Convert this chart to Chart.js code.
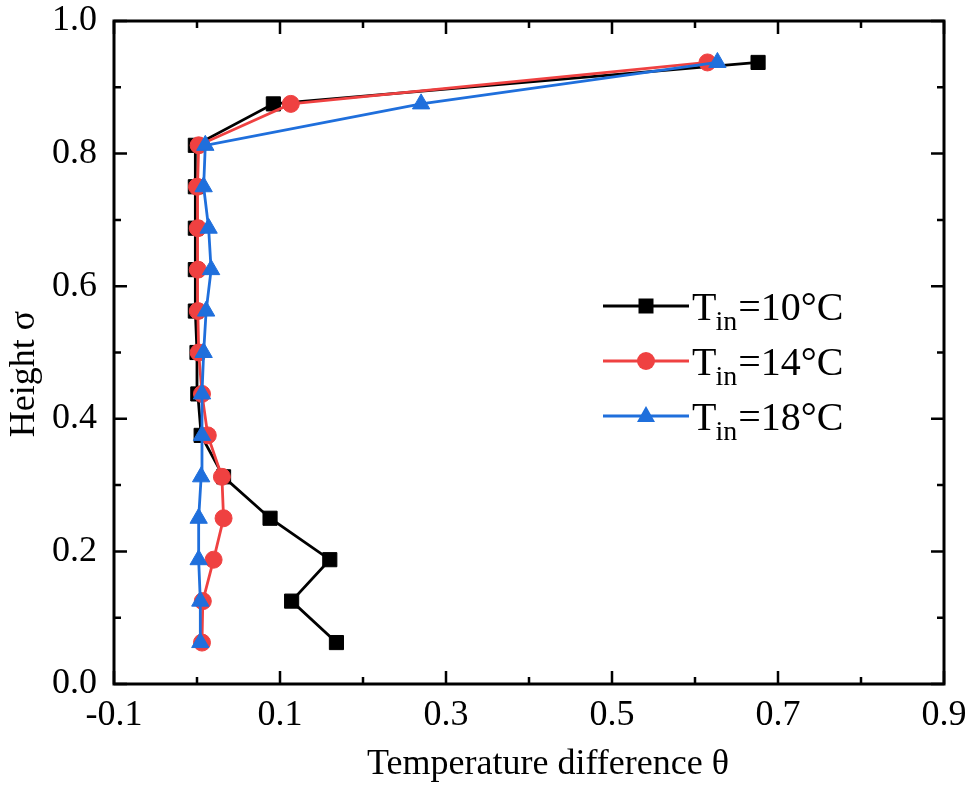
<!DOCTYPE html>
<html>
<head>
<meta charset="utf-8">
<script src="https://cdn.jsdelivr.net/npm/chart.js@4/dist/chart.umd.min.js"></script>
<style>
    html, body { margin: 0; padding: 0; background: #fff; }
    canvas { display: block; }
</style>
</head>
<body>
<canvas id="thetaChart" width="969" height="787"></canvas>
<script>
// height sigma of each measuring point
const sigma = [0.0625, 0.125, 0.1875, 0.25, 0.3125, 0.375, 0.4375, 0.5,
               0.5625, 0.625, 0.6875, 0.75, 0.8125, 0.875, 0.9375];

// temperature difference theta
const theta10 = [0.168, 0.114, 0.160, 0.088, 0.032, 0.005, 0.001, 0.000,
                 -0.002, -0.002, -0.002, -0.002, -0.002, 0.092, 0.676];
const theta14 = [0.006, 0.007, 0.020, 0.032, 0.030, 0.013, 0.006, 0.002,
                 0.001, 0.001, 0.001, 0.000, 0.002, 0.113, 0.615];
const theta18 = [0.004, 0.004, 0.002, 0.002, 0.005, 0.006, 0.006, 0.008,
                 0.011, 0.017, 0.014, 0.008, 0.010, 0.270, 0.627];

const seriesNames = ['10°C', '14°C', '18°C'];
const seriesColors = ['#000000', '#ef4141', '#1f6fdc'];
const seriesShapes = ['rect', 'circle', 'triangle'];

const xTitle = 'Temperature difference θ';
const yTitle = 'Height σ';

const FONT = '"Liberation Serif", "Times New Roman", serif';

function toPoints(xs) {
    return xs.map((v, i) => ({ x: v, y: sigma[i] }));
}

function makeSet(idx, values, radius) {
    return {
        label: 'Tin=' + seriesNames[idx],
        data: toPoints(values),
        borderColor: seriesColors[idx],
        backgroundColor: seriesColors[idx],
        borderWidth: 2.8,
        pointStyle: seriesShapes[idx],
        pointRadius: radius,
        pointBorderWidth: 1,
        pointBackgroundColor: seriesColors[idx],
        pointBorderColor: seriesColors[idx],
        tension: 0,
        order: 3 - idx
    };
}

// frame with inward ticks on all four sides, axis titles and legend
const decor = {
    id: 'decor',
    afterDraw(chart) {
        const { ctx, chartArea: a, scales: { x, y } } = chart;
        ctx.save();
        ctx.strokeStyle = '#000';
        ctx.lineWidth = 2.5;
        ctx.beginPath();
        x.ticks.forEach(t => {
            const px = x.getPixelForValue(t.value);
            const major = Math.abs(Math.round(t.value * 10)) % 2 === 1;
            const len = major ? 13 : 7;
            ctx.moveTo(px, a.bottom); ctx.lineTo(px, a.bottom - len);
            ctx.moveTo(px, a.top); ctx.lineTo(px, a.top + len);
        });
        y.ticks.forEach(t => {
            const py = y.getPixelForValue(t.value);
            const major = Math.round(t.value * 10) % 2 === 0;
            const len = major ? 13 : 7;
            ctx.moveTo(a.left, py); ctx.lineTo(a.left + len, py);
            ctx.moveTo(a.right, py); ctx.lineTo(a.right - len, py);
        });
        ctx.stroke();
        ctx.lineWidth = 3;
        ctx.strokeRect(a.left, a.top, a.right - a.left, a.bottom - a.top);

        // axis titles
        ctx.fillStyle = '#000';
        ctx.font = '36px ' + FONT;
        ctx.textAlign = 'center';
        ctx.textBaseline = 'alphabetic';
        ctx.fillText(xTitle, 548, 774);
        ctx.save();
        ctx.translate(34, 374);
        ctx.rotate(-Math.PI / 2);
        ctx.fillText(yTitle, 0, 0);
        ctx.restore();

        // legend
        const rowY = [306, 361, 416];
        seriesNames.forEach((name, i) => {
            const ly = rowY[i];
            const c = seriesColors[i];
            ctx.strokeStyle = c;
            ctx.fillStyle = c;
            ctx.lineWidth = 2.8;
            ctx.beginPath();
            ctx.moveTo(603, ly); ctx.lineTo(689, ly);
            ctx.stroke();
            const mx = 646;
            ctx.beginPath();
            if (seriesShapes[i] === 'rect') {
                ctx.rect(mx - 7.5, ly - 7.5, 15, 15);
            } else if (seriesShapes[i] === 'circle') {
                ctx.arc(mx, ly, 9, 0, Math.PI * 2);
            } else {
                ctx.moveTo(mx, ly - 10);
                ctx.lineTo(mx + 9, ly + 6);
                ctx.lineTo(mx - 9, ly + 6);
                ctx.closePath();
            }
            ctx.fill();

            ctx.fillStyle = '#000';
            ctx.textAlign = 'left';
            let tx = 692;
            ctx.font = '40px ' + FONT;
            ctx.fillText('T', tx, ly + 14);
            tx += ctx.measureText('T').width - 1;
            ctx.font = '28px ' + FONT;
            ctx.fillText('in', tx, ly + 24);
            tx += ctx.measureText('in').width + 1;
            ctx.font = '40px ' + FONT;
            ctx.fillText('=' + name, tx, ly + 14);
        });
        ctx.restore();
    }
};

const ctx = document.getElementById('thetaChart').getContext('2d');
new Chart(ctx, {
    type: 'line',
    data: {
        datasets: [
            makeSet(0, theta10, 10),
            makeSet(1, theta14, 8.5),
            makeSet(2, theta18, 10)
        ]
    },
    options: {
        responsive: false,
        animation: false,
        layout: { padding: { left: 0, top: 21, right: 25, bottom: 0 } },
        plugins: {
            legend: { display: false },
            tooltip: { enabled: false }
        },
        scales: {
            x: {
                type: 'linear',
                min: -0.1,
                max: 0.9,
                grid: { display: false },
                border: { display: false },
                afterFit: s => {
                    s.height = 103;
                    s.paddingLeft = 0;
                    s.paddingRight = 0;
                },
                ticks: {
                    stepSize: 0.1,
                    autoSkip: false,
                    maxRotation: 0,
                    padding: 2,
                    color: '#000',
                    font: { family: FONT, size: 36 },
                    callback: v => Math.abs(Math.round(v * 10)) % 2 === 1 ? (Math.round(v * 10) / 10).toFixed(1) : ''
                }
            },
            y: {
                type: 'linear',
                min: 0,
                max: 1,
                grid: { display: false },
                border: { display: false },
                afterFit: s => {
                    s.width = 114;
                    s.paddingTop = 0;
                    s.paddingBottom = 0;
                },
                ticks: {
                    stepSize: 0.1,
                    autoSkip: false,
                    padding: 9,
                    color: '#000',
                    font: { family: FONT, size: 36 },
                    callback: v => Math.round(v * 10) % 2 === 0 ? (Math.round(v * 10) / 10).toFixed(1) : ''
                }
            }
        }
    },
    plugins: [decor]
});
</script>
</body>
</html>
